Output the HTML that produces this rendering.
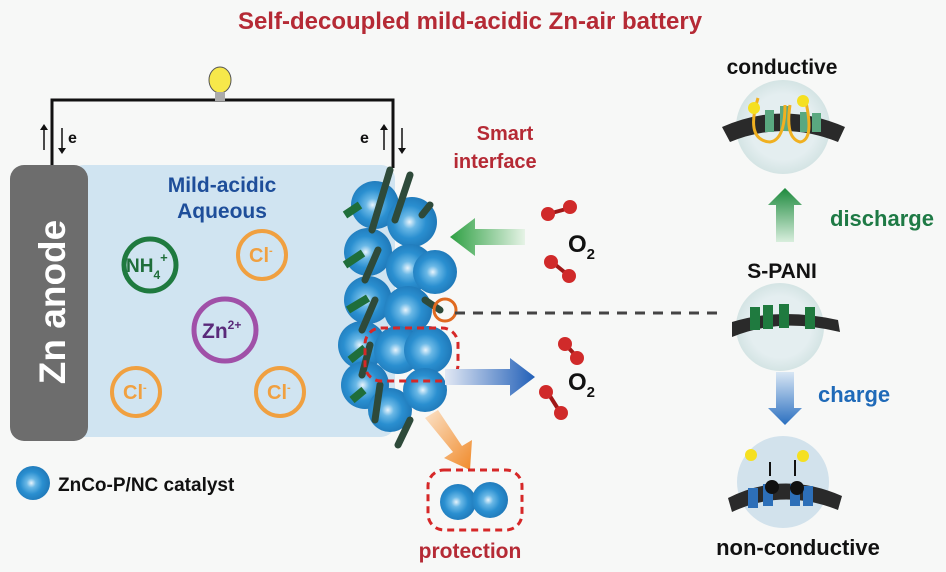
<!DOCTYPE html><html><head><style>body{margin:0;background:#f7f8f7}svg{display:block;font-family:"Liberation Sans",sans-serif;font-weight:bold}</style></head><body>
<svg width="946" height="572" viewBox="0 0 946 572">
<defs>
<radialGradient id="sp" cx="0.45" cy="0.5" r="0.55"><stop offset="0" stop-color="#e8f4fc"/><stop offset="0.25" stop-color="#6ab8e6"/><stop offset="0.6" stop-color="#2a8fd0"/><stop offset="1" stop-color="#1f78b8"/></radialGradient>
<radialGradient id="bub" cx="0.5" cy="0.5" r="0.5"><stop offset="0.7" stop-color="#e4eef0"/><stop offset="1" stop-color="#d4e4e4"/></radialGradient>
<linearGradient id="gup" x1="0" y1="1" x2="0" y2="0"><stop offset="0" stop-color="#d8eedd"/><stop offset="1" stop-color="#1d8a3d"/></linearGradient>
<linearGradient id="gdn" x1="0" y1="0" x2="0" y2="1"><stop offset="0" stop-color="#d8e6f4"/><stop offset="1" stop-color="#2a6fc0"/></linearGradient>
<linearGradient id="gl" x1="1" y1="0" x2="0" y2="0"><stop offset="0" stop-color="#e6f3e6"/><stop offset="1" stop-color="#2ea043"/></linearGradient>
<linearGradient id="gr" x1="0" y1="0" x2="1" y2="0"><stop offset="0" stop-color="#e2e8f4"/><stop offset="1" stop-color="#2260b8"/></linearGradient>
<linearGradient id="go" x1="0" y1="0" x2="1" y2="1"><stop offset="0" stop-color="#fbe2c8"/><stop offset="1" stop-color="#f08a2a"/></linearGradient>
</defs>
<text x="470" y="29" text-anchor="middle" font-size="24" fill="#b52a35">Self-decoupled mild-acidic Zn-air battery</text>
<path d="M52 165V100H393V168" fill="none" stroke="#111" stroke-width="3"/>
<ellipse cx="220" cy="80" rx="11" ry="13" fill="#f7e84a" stroke="#555" stroke-width="1"/>
<rect x="215" y="92" width="10" height="9" fill="#aaa"/>
<g stroke="#111" stroke-width="1.5"><path d="M44 150V128M62 128V150"/><path d="M384 150V128M402 128V150"/></g>
<path d="M40 130l4-6 4 6zM58 148l4 6 4-6zM380 130l4-6 4 6zM398 148l4 6 4-6z" fill="#111"/>
<text x="68" y="143" font-size="16" fill="#111">e</text><text x="360" y="143" font-size="16" fill="#111">e</text>
<rect x="70" y="165" width="325" height="272" rx="14" fill="#d0e4f1"/>
<rect x="10" y="165" width="78" height="276" rx="14" fill="#6d6d6d"/>
<text transform="translate(65,302) rotate(-90)" text-anchor="middle" font-size="37" fill="#fff">Zn anode</text>
<text x="222" y="192" text-anchor="middle" font-size="21" fill="#1e4e9a">Mild-acidic</text>
<text x="222" y="218" text-anchor="middle" font-size="21" fill="#1e4e9a">Aqueous</text>
<circle cx="150" cy="265" r="26" fill="none" stroke="#1f7a3f" stroke-width="5"/><text x="126" y="272" font-size="19" fill="#1f6e3a">NH<tspan font-size="12" dy="7">4</tspan><tspan font-size="13" dy="-17">+</tspan></text>
<circle cx="225" cy="330" r="31" fill="none" stroke="#a050a8" stroke-width="5"/><text x="202" y="338" font-size="21" fill="#5a2a7a">Zn<tspan font-size="12" dy="-9">2+</tspan></text>
<g fill="none" stroke="#f0a040" stroke-width="4"><circle cx="262" cy="255" r="24"/><circle cx="136" cy="392" r="24"/><circle cx="280" cy="392" r="24"/></g>
<g font-size="20" fill="#f0a040"><text x="249" y="262">Cl<tspan font-size="11" dy="-8">-</tspan></text><text x="123" y="399">Cl<tspan font-size="11" dy="-8">-</tspan></text><text x="267" y="399">Cl<tspan font-size="11" dy="-8">-</tspan></text></g>
<g fill="url(#sp)">
<circle cx="375" cy="205" r="24"/><circle cx="368" cy="252" r="24"/><circle cx="368" cy="300" r="24"/><circle cx="362" cy="345" r="24"/><circle cx="365" cy="385" r="24"/><circle cx="390" cy="410" r="22"/>
<circle cx="412" cy="222" r="25"/><circle cx="410" cy="268" r="24"/><circle cx="435" cy="272" r="22"/><circle cx="408" cy="310" r="24"/><circle cx="398" cy="350" r="24"/><circle cx="428" cy="350" r="24"/><circle cx="425" cy="390" r="22"/>
</g>
<g stroke="#2e4a3a" stroke-width="7" stroke-linecap="round" fill="none"><path d="M390 170L372 230M410 175L395 220M378 250L365 280M375 300L362 330M370 345L362 375M380 385L375 420M410 420L398 445M430 205L422 215M425 300L440 310"/></g>
<g stroke="#1f6e3a" stroke-width="8" fill="none"><path d="M345 215l15 -10M345 265l18 -12M348 310l20 -12M350 360l15 -12M352 400l12 -10"/></g>
<circle cx="445" cy="310" r="11" fill="none" stroke="#e06a20" stroke-width="3"/>
<rect x="365" y="328" width="93" height="53" rx="16" fill="none" stroke="#d62828" stroke-width="3" stroke-dasharray="7 5"/>
<text x="505" y="140" text-anchor="middle" font-size="20" fill="#b52a35">Smart</text>
<text x="495" y="168" text-anchor="middle" font-size="20" fill="#b52a35">interface</text>
<path d="M525 229H475V218L450 237L475 256V245H525Z" fill="url(#gl)"/>
<path d="M445 369H510V358L535 377L510 396V385H445Z" fill="url(#gr)"/>
<path d="M425 418L438 410L462 446L472 440L470 470L444 458L453 452Z" fill="url(#go)"/>
<line x1="455" y1="313" x2="725" y2="313" stroke="#444" stroke-width="3" stroke-dasharray="10 8"/>
<g stroke="#a01818" stroke-width="4"><path d="M548 214L570 208M552 262L568 275M566 345L576 356M548 393L560 412"/></g>
<g fill="#d02a2a"><circle cx="548" cy="214" r="7"/><circle cx="570" cy="207" r="7"/><circle cx="551" cy="262" r="7"/><circle cx="569" cy="276" r="7"/><circle cx="565" cy="344" r="7"/><circle cx="577" cy="358" r="7"/><circle cx="546" cy="392" r="7"/><circle cx="561" cy="413" r="7"/></g>
<text x="568" y="252" font-size="24" fill="#111">O<tspan font-size="15" dy="7">2</tspan></text>
<text x="568" y="390" font-size="24" fill="#111">O<tspan font-size="15" dy="7">2</tspan></text>
<circle cx="458" cy="502" r="18" fill="url(#sp)"/><circle cx="490" cy="500" r="18" fill="url(#sp)"/>
<rect x="428" y="470" width="94" height="60" rx="16" fill="none" stroke="#d62828" stroke-width="3" stroke-dasharray="7 5"/>
<text x="470" y="558" text-anchor="middle" font-size="21" fill="#b52a35">protection</text>
<circle cx="33" cy="483" r="17" fill="url(#sp)"/>
<text x="58" y="491" font-size="19" fill="#111">ZnCo-P/NC catalyst</text>
<text x="782" y="74" text-anchor="middle" font-size="21" fill="#111">conductive</text>
<circle cx="783" cy="127" r="47" fill="url(#bub)"/>
<path d="M722 127Q783 100 845 127L838 142Q783 120 730 142Z" fill="#2a2a2a"/>
<g fill="#5aa880"><rect x="765" y="110" width="9" height="22"/><rect x="780" y="106" width="9" height="25"/><rect x="800" y="112" width="9" height="20"/><rect x="812" y="113" width="9" height="19"/></g>
<g fill="none" stroke="#f0b020" stroke-width="3"><path d="M758 98Q745 140 770 142Q785 140 785 105"/><path d="M805 98Q815 140 800 142Q785 138 790 105"/></g>
<circle cx="754" cy="108" r="6" fill="#f5e020"/><circle cx="803" cy="101" r="6" fill="#f5e020"/>
<path d="M776 242V205H768L785 188L802 205H794V242Z" fill="url(#gup)"/>
<text x="830" y="226" font-size="22" fill="#1e7a45">discharge</text>
<text x="782" y="278" text-anchor="middle" font-size="21" fill="#111">S-PANI</text>
<circle cx="780" cy="327" r="44" fill="url(#bub)"/>
<path d="M732 322Q780 307 838 320L840 332Q780 317 732 337Z" fill="#2a2a2a"/>
<g fill="#1f7a3f"><rect x="750" y="307" width="10" height="23"/><rect x="763" y="305" width="10" height="24"/><rect x="779" y="304" width="10" height="24"/><rect x="805" y="307" width="10" height="22"/></g>
<path d="M776 372V408H768L785 425L802 408H794V372Z" fill="url(#gdn)"/>
<text x="818" y="402" font-size="22" fill="#1f6ab8">charge</text>
<circle cx="783" cy="482" r="46" fill="#d2e2ec"/>
<path d="M728 498Q783 470 842 496L838 510Q783 488 732 512Z" fill="#2a2a2a"/>
<g fill="#2d6fb8"><rect x="748" y="488" width="10" height="20"/><rect x="763" y="484" width="10" height="22"/><rect x="790" y="484" width="10" height="22"/><rect x="803" y="486" width="10" height="20"/></g>
<circle cx="772" cy="487" r="7" fill="#111"/><circle cx="797" cy="488" r="7" fill="#111"/>
<path d="M770 462V476M795 460V476" stroke="#111" stroke-width="2"/>
<circle cx="751" cy="455" r="6" fill="#f5e020"/><circle cx="803" cy="456" r="6" fill="#f5e020"/>
<text x="798" y="555" text-anchor="middle" font-size="22" fill="#111">non-conductive</text>
</svg></body></html>
